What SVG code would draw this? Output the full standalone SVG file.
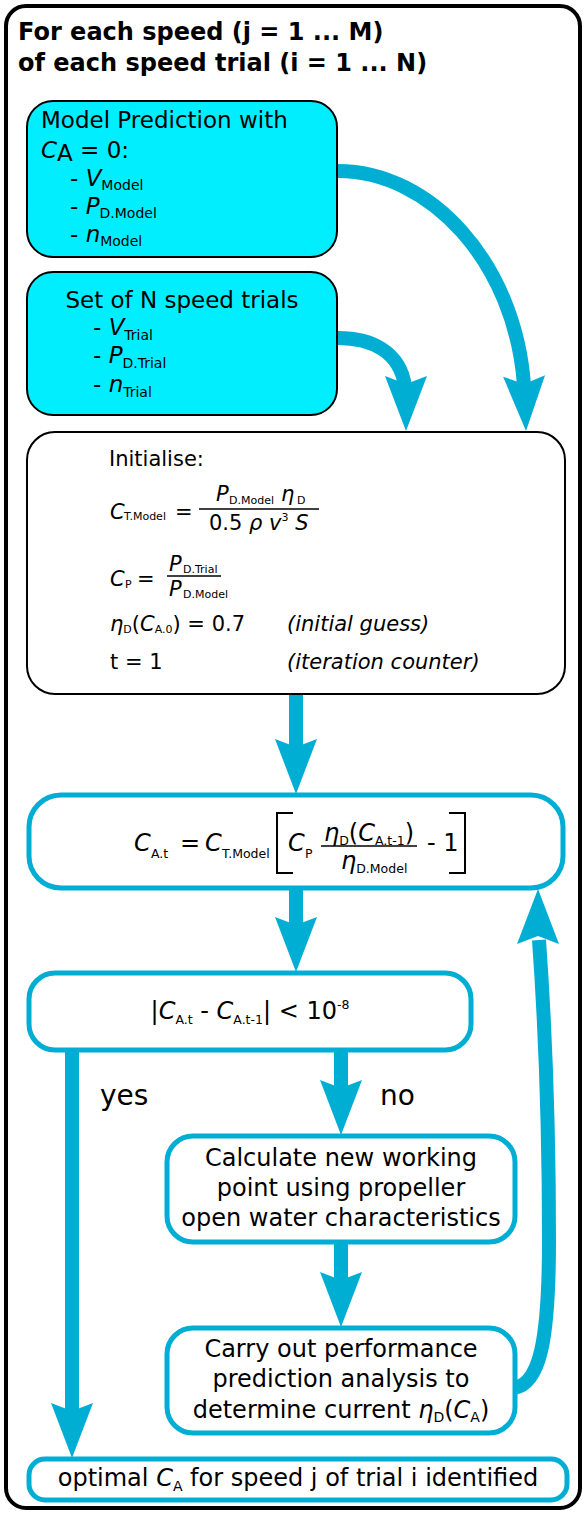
<svg xmlns="http://www.w3.org/2000/svg" width="585" height="1513" viewBox="0 0 585 1513">
<style>
text{font-family:"DejaVu Sans","Liberation Sans",sans-serif;fill:#000}
.it{font-style:italic}
.f23{font-size:23px}
.f21{font-size:21px}
.f24{font-size:24px}
.s14{font-size:14px}
.s11{font-size:11px}
.s12{font-size:12.5px}
.title{font-size:24px;font-weight:bold}
.lbl{font-size:28px}
.frame{fill:none;stroke:#000;stroke-width:4}
.cyan{fill:#00eeff;stroke:#000;stroke-width:2}
.wbox{fill:#fff;stroke:#000;stroke-width:2}
.bbox{fill:#fff;stroke:#00aed4;stroke-width:5}
.rule{fill:none;stroke:#000;stroke-width:1.5}
.brk{fill:none;stroke:#000;stroke-width:2}
.shaft{fill:none;stroke:#00aed4;stroke-width:14}
.head{fill:#00aed4}
</style>
<defs>
<path id="ah" d="M0,0 L-21,-55 L0,-47 L21,-55 Z"/>
</defs>
<rect x="0" y="0" width="585" height="1513" fill="#fff"/>

<g id="frame">
<rect class="frame" x="6" y="6" width="574" height="1502" rx="20"/>
<text class="title" x="18" y="40">For each speed (j = 1 ... M)</text>
<text class="title" x="18" y="71">of each speed trial (i = 1 ... N)</text>
</g>

<g id="model-prediction">
<rect class="cyan" x="27" y="101" width="310" height="156" rx="26"/>
<text class="f23" x="41" y="128">Model Prediction with</text>
<text class="f23" x="41" y="158"><tspan class="it">C</tspan><tspan dy="3">A</tspan><tspan dy="-3"> = 0:</tspan></text>
<text class="f23" x="70" y="186">- <tspan class="it">V</tspan><tspan class="s14" dy="4">Model</tspan></text>
<text class="f23" x="70" y="214">- <tspan class="it">P</tspan><tspan class="s14" dy="4">D.Model</tspan></text>
<text class="f23" x="70" y="242">- <tspan class="it">n</tspan><tspan class="s14" dy="4">Model</tspan></text>
</g>

<g id="speed-trials">
<rect class="cyan" x="27" y="272" width="310" height="143" rx="26"/>
<text class="f23" x="182" y="308" text-anchor="middle">Set of N speed trials</text>
<text class="f23" x="93" y="335">- <tspan class="it">V</tspan><tspan class="s14" dy="5">Trial</tspan></text>
<text class="f23" x="93" y="363">- <tspan class="it">P</tspan><tspan class="s14" dy="5">D.Trial</tspan></text>
<text class="f23" x="93" y="392">- <tspan class="it">n</tspan><tspan class="s14" dy="5">Trial</tspan></text>
</g>

<g id="initialise">
<rect class="wbox" x="27" y="432" width="538" height="262" rx="28"/>
<text class="f21" x="109" y="466">Initialise:</text>
<text class="f21 it" x="110" y="519">C</text>
<text class="s11" x="124" y="520">T.Model</text>
<text class="f21" x="175" y="519">=</text>
<text class="f21 it" x="216" y="501">P</text>
<text class="s11" x="229" y="504">D.Model</text>
<text class="f21 it" x="281" y="501">η</text>
<text class="s11" x="297" y="504">D</text>
<path class="rule" d="M199,509 H319"/>
<text class="f21" x="209" y="530">0.5 <tspan class="it">ρ</tspan> <tspan class="it">v</tspan><tspan class="s11" dy="-9">3</tspan><tspan dy="9"> </tspan><tspan class="it">S</tspan></text>
<text class="f21 it" x="110" y="586">C</text>
<text class="s11" x="125" y="588">P</text>
<text class="f21" x="137" y="586">=</text>
<text class="f21 it" x="169" y="571">P</text>
<text class="s11" x="183" y="573">D.Trial</text>
<path class="rule" d="M167,576 H221"/>
<text class="f21 it" x="169" y="596">P</text>
<text class="s11" x="183" y="598">D.Model</text>
<text class="f21" x="110" y="631"><tspan class="it">η</tspan><tspan class="s11" dy="2">D</tspan><tspan dy="-2">(</tspan><tspan class="it">C</tspan><tspan class="s11" dy="2">A.0</tspan><tspan dy="-2">) = 0.7</tspan></text>
<text class="f21 it" x="287" y="631">(initial guess)</text>
<text class="f21" x="110" y="669">t = 1</text>
<text class="f21 it" x="287" y="669">(iteration counter)</text>
</g>

<g id="update-ca">
<rect class="bbox" x="29" y="795" width="534" height="93" rx="32"/>
<text class="f24 it" x="134" y="851">C</text>
<text class="s12" x="151" y="858">A.t</text>
<text class="f24" x="180" y="851">=</text>
<text class="f24 it" x="205" y="851">C</text>
<text class="s12" x="222" y="858">T.Model</text>
<path class="brk" d="M293,813 H277 V873 H293"/>
<text class="f24 it" x="288" y="851">C</text>
<text class="s12" x="305" y="858">P</text>
<text class="f24" x="324" y="841"><tspan class="it">η</tspan><tspan class="s12" dy="4">D</tspan><tspan dy="-4">(</tspan><tspan class="it">C</tspan><tspan class="s12" dy="4">A.t-1</tspan><tspan dy="-4">)</tspan></text>
<path class="rule" d="M321,846 H417"/>
<text class="f24" x="341" y="869"><tspan class="it">η</tspan><tspan class="s12" dy="4">D.Model</tspan></text>
<text class="f24" x="427" y="851">- 1</text>
<path class="brk" d="M449,813 H465 V873 H449"/>
</g>

<g id="convergence">
<rect class="bbox" x="29" y="973" width="442" height="77" rx="26"/>
<text class="f24" x="250" y="1019" text-anchor="middle">|<tspan class="it">C</tspan><tspan class="s12" dy="5">A.t</tspan><tspan dy="-5"> - </tspan><tspan class="it">C</tspan><tspan class="s12" dy="5">A.t-1</tspan><tspan dy="-5">| &lt; 10</tspan><tspan class="s12" dy="-10">-8</tspan></text>
</g>

<g id="calculate">
<rect class="bbox" x="167" y="1136" width="348" height="106" rx="26"/>
<text class="f24" x="341" y="1166" text-anchor="middle">Calculate new working</text>
<text class="f24" x="341" y="1196" text-anchor="middle">point using propeller</text>
<text class="f24" x="341" y="1226" text-anchor="middle">open water characteristics</text>
</g>

<g id="performance">
<rect class="bbox" x="167" y="1328" width="348" height="105" rx="26"/>
<text class="f24" x="341" y="1357" text-anchor="middle">Carry out performance</text>
<text class="f24" x="341" y="1387" text-anchor="middle">prediction analysis to</text>
<text class="f24" x="341" y="1418" text-anchor="middle">determine current <tspan class="it">η</tspan><tspan class="s14" dy="4">D</tspan><tspan dy="-4">(</tspan><tspan class="it">C</tspan><tspan class="s14" dy="4">A</tspan><tspan dy="-4">)</tspan></text>
</g>

<g id="optimal">
<rect class="bbox" x="29" y="1459" width="538" height="41" rx="16"/>
<text class="f24" x="298" y="1486" text-anchor="middle">optimal <tspan class="it">C</tspan><tspan class="s14" dy="5">A</tspan><tspan dy="-5"> for speed j of trial i identified</tspan></text>
</g>

<g id="connectors">
<path class="shaft" d="M338,171 C430,171 515,262 524,385"/>
<use href="#ah" class="head" transform="translate(526,431) rotate(-2)"/>
<path class="shaft" d="M338,338 C372,338 400,352 405,386"/>
<use href="#ah" class="head" transform="translate(406,431)"/>
<path class="shaft" d="M296,695 V750"/>
<use href="#ah" class="head" transform="translate(296,794)"/>
<path class="shaft" d="M296,889 V928"/>
<use href="#ah" class="head" transform="translate(296,972)"/>
<path class="shaft" d="M72,1051 V1414"/>
<use href="#ah" class="head" transform="translate(72,1458)"/>
<path class="shaft" d="M341,1051 V1092"/>
<use href="#ah" class="head" transform="translate(341,1135)"/>
<path class="shaft" d="M341,1243 V1284"/>
<use href="#ah" class="head" transform="translate(341,1327)"/>
<path class="shaft" d="M514,1388 C540,1384 549,1340 549,1240 C549,1100 544,1010 539,940"/>
<use href="#ah" class="head" transform="translate(538,889) rotate(180)"/>
<text class="lbl" x="100" y="1105">yes</text>
<text class="lbl" x="380" y="1105">no</text>
</g>
</svg>
